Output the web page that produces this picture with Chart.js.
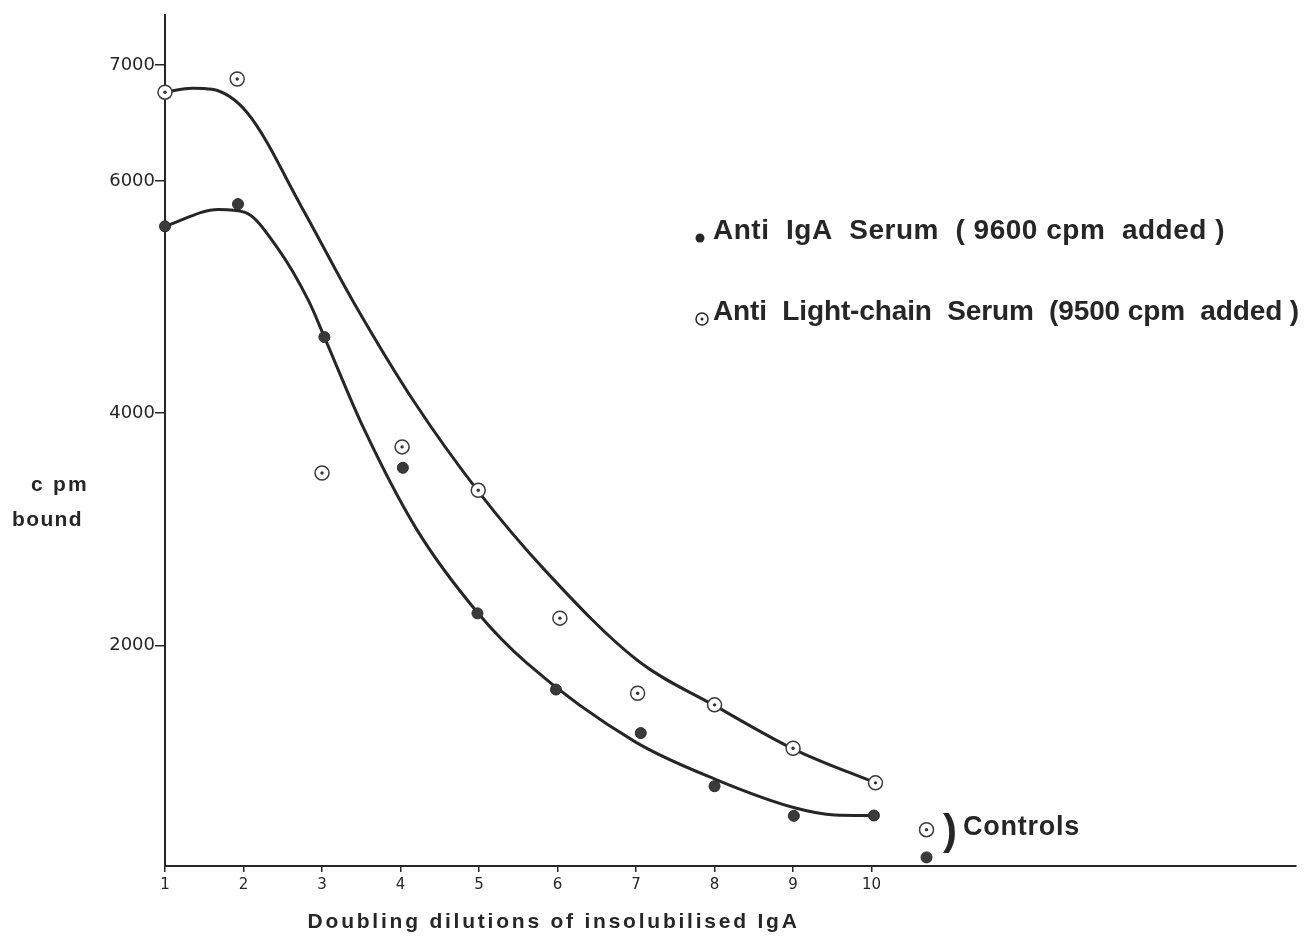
<!DOCTYPE html>
<html lang="en">
<head>
<meta charset="UTF-8">
<title>cpm bound vs doubling dilutions of insolubilised IgA</title>
<script src="https://cdn.jsdelivr.net/npm/chart.js"></script>
<style>
  body { margin: 0; background: #fff; }
  #wrap { width: 1304px; height: 939px; }
</style>
</head>
<body>
<div id="wrap"><canvas id="chart" width="1304" height="939"></canvas></div>
<script>
// values (x = doubling dilution step, y = cpm bound)
const lightChainX = [1, 1.92, 3.0, 4.02, 4.99, 6.03, 7.02, 8.0, 9.0, 10.05];
const lightChainY = [6765, 6879, 3485, 3710, 3336, 2235, 1588, 1488, 1114, 816];
const igaX = [1, 1.93, 3.03, 4.03, 4.98, 5.98, 7.06, 8.0, 9.01, 10.03];
const igaY = [5610, 5801, 4656, 3530, 2276, 1620, 1245, 787, 532, 535];

const controlX = 10.7;
const lightChainControl = 413;
const igaControl = 174;

// hand-drawn fitted curves
const upperCurveX = [1, 1.35, 1.6, 2.05, 2.75, 3.4, 4.18, 4.98, 5.85, 7.02, 8.03, 9.04, 10.05];
const upperCurveY = [6765, 6800, 6790, 6586, 5764, 4959, 4092, 3336, 2640, 1870, 1471, 1096, 816];
const lowerCurveX = [1, 1.68, 2.02, 2.43, 2.83, 3.03, 3.53, 4.2, 4.98, 5.61, 6.99, 8.01, 9.03, 9.53, 10.03];
const lowerCurveY = [5610, 5755, 5730, 5426, 4967, 4656, 3871, 3006, 2284, 1847, 1169, 847, 600, 540, 535];

const xTicks = [1, 2, 3, 4, 5, 6, 7, 8, 9, 10];
const yTicks = [2000, 4000, 6000, 7000];

const ink = '#262626';
const pts = (xs, ys) => xs.map((x, i) => ({ x: x, y: ys[i] }));

// draw text spaced out to a given width
function fitText(ctx, text, x, y, width, font) {
    ctx.font = font;
    ctx.letterSpacing = '0px';
    const w = ctx.measureText(text).width;
    ctx.letterSpacing = ((width - w) / text.length) + 'px';
    ctx.fillText(text, x, y);
    ctx.letterSpacing = '0px';
}

const annotations = {
    id: 'annotations',
    afterDraw(chart) {
        const ctx = chart.ctx;
        const xs = chart.scales.x;
        ctx.save();
        ctx.fillStyle = ink;
        ctx.strokeStyle = ink;
        ctx.textAlign = 'left';
        ctx.textBaseline = 'middle';

        // y axis title
        fitText(ctx, 'c pm', 31, 485, 58, 'bold 21px "Liberation Sans"');
        fitText(ctx, 'bound', 12, 520, 71, 'bold 21px "Liberation Sans"');

        // x axis title
        const title = 'Doubling dilutions of insolubilised IgA';
        const tx = xs.getPixelForValue(5.95) - 246;
        fitText(ctx, title, tx, 922, 492, 'bold 21px "Liberation Sans"');

        // legend
        ctx.beginPath();
        ctx.arc(700, 238, 4.5, 0, Math.PI * 2);
        ctx.fill();
        fitText(ctx, 'Anti  IgA  Serum  ( 9600 cpm  added )', 713, 231, 512, 'bold 28px "Liberation Sans"');

        ctx.beginPath();
        ctx.lineWidth = 1.5;
        ctx.arc(702, 319, 6, 0, Math.PI * 2);
        ctx.stroke();
        ctx.beginPath();
        ctx.arc(702, 319, 1.5, 0, Math.PI * 2);
        ctx.fill();
        fitText(ctx, 'Anti  Light-chain  Serum  (9500 cpm  added )', 713, 312, 586, 'bold 28px "Liberation Sans"');

        // controls label
        ctx.font = 'bold 42px "Liberation Sans"';
        ctx.fillText(')', 943, 832);
        fitText(ctx, 'Controls', 963, 828, 117, 'bold 27px "Liberation Sans"');
        ctx.restore();
    }
};

new Chart(document.getElementById('chart'), {
    type: 'scatter',
    data: {
        datasets: [
            {
                label: 'upper curve',
                data: pts(upperCurveX, upperCurveY),
                showLine: true,
                cubicInterpolationMode: 'monotone',
                borderColor: ink,
                borderWidth: 3,
                pointRadius: 0,
                clip: false,
                order: 3
            },
            {
                label: 'lower curve',
                data: pts(lowerCurveX, lowerCurveY),
                showLine: true,
                cubicInterpolationMode: 'monotone',
                borderColor: ink,
                borderWidth: 3,
                pointRadius: 0,
                clip: false,
                order: 3
            },
            {
                label: 'Anti Light-chain Serum',
                data: pts(lightChainX, lightChainY).concat([{ x: controlX, y: lightChainControl }]),
                pointRadius: 7,
                pointBackgroundColor: '#fff',
                pointBorderColor: '#3a3a3a',
                pointBorderWidth: 1.5,
                clip: false,
                order: 1
            },
            {
                label: 'Anti Light-chain Serum centre',
                data: pts(lightChainX, lightChainY).concat([{ x: controlX, y: lightChainControl }]),
                pointRadius: 1.7,
                pointBackgroundColor: '#333',
                pointBorderWidth: 0,
                clip: false,
                order: 0
            },
            {
                label: 'Anti IgA Serum',
                data: pts(igaX, igaY).concat([{ x: controlX, y: igaControl }]),
                pointRadius: 5.5,
                pointBackgroundColor: '#3a3a3a',
                pointBorderColor: '#2a2a2a',
                pointBorderWidth: 1,
                clip: false,
                order: 1
            }
        ]
    },
    options: {
        responsive: false,
        animation: false,
        layout: { padding: { top: 15, right: 4, left: 0, bottom: 0 } },
        plugins: {
            legend: { display: false },
            tooltip: { enabled: false }
        },
        scales: {
            x: {
                type: 'linear',
                min: 1,
                max: 15.4,
                afterBuildTicks: s => { s.ticks = xTicks.map(v => ({ value: v })); },
                afterFit: s => { s.height = 73; },
                grid: { drawOnChartArea: false, tickLength: 6, color: ink, lineWidth: 1.5 },
                border: { color: ink, width: 2 },
                ticks: {
                    color: ink,
                    font: { family: 'DejaVu Sans', size: 15 },
                    padding: 4,
                    maxRotation: 0,
                    autoSkip: false,
                    callback: v => String(v)
                }
            },
            y: {
                min: 100,
                max: 7430,
                afterBuildTicks: s => { s.ticks = yTicks.map(v => ({ value: v })); },
                afterFit: s => { s.width = 165; },
                grid: { drawOnChartArea: false, tickLength: 10, color: ink, lineWidth: 1.5 },
                border: { color: ink, width: 2 },
                ticks: {
                    color: ink,
                    font: { family: 'DejaVu Sans', size: 18 },
                    padding: 0,
                    callback: v => String(v)
                }
            }
        }
    },
    plugins: [annotations]
});
</script>
</body>
</html>
